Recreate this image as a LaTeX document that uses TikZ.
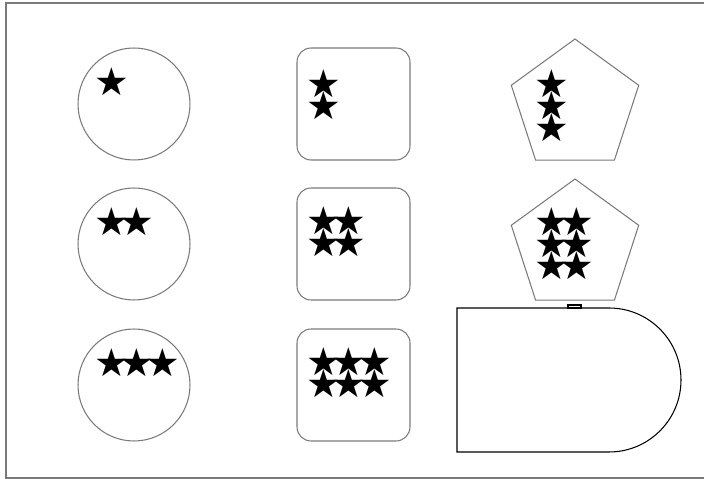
\documentclass[tikz,border=0pt]{standalone}
\usepackage{fontspec}
\usepackage{tikz}
\usetikzlibrary{positioning,shapes.geometric}
\newfontfamily\starfont{DejaVu Sans}
\newcommand\sgap{\kern-5.2pt}
\newcommand\starsize{\starfont\fontsize{22}{12.5}\selectfont\lineskiplimit=-50pt\relax\lineskip=0pt\relax}
\definecolor{rim}{HTML}{7A7A7A}
\definecolor{ink}{HTML}{000000}
\tikzset{circ/.style={draw=rim,circle,minimum size=2.24cm,inner sep=0pt,line width=0.6pt},card/.style={draw=rim,rectangle,rounded corners=0.28cm,minimum width=2.26cm,minimum height=2.24cm,inner sep=0pt,line width=0.6pt},pent/.style={draw=rim,regular polygon,regular polygon sides=5,minimum size=2.68cm,inner sep=0pt,line width=0.6pt},stars/.style={anchor=north west,inner sep=0pt,align=left,font=\starsize}}

\begin{document}
\begin{tikzpicture}[x=0.02cm,y=-0.02cm]
\useasboundingbox (0,0) rectangle (704,479);
\draw[rim,line width=0.6pt] (704,3)--(6,3)--(6,478)--(704,478);
% first column
\node[circ] (ball1) at (134,104) {};
\node[circ] (ball2) at (134,244) {};
\node[circ] (ball3) at (134,385) {};
\node[stars] (bs1) at (94,67) {★};
\node[stars] (bs2) at (94,207) {★\sgap★};
\node[stars] (bs3) at (94,348) {★\sgap★\sgap★};
% second column
\node[card] (card1) at (353.5,104) {};
\node[card] (card2) at (353.5,244) {};
\node[card] (card3) at (353.5,385) {};
\node[stars] (cs1) at (306,69) {★\\★};
\node[stars] (cs2) at (306,206) {★\sgap★\\★\sgap★};
\node[stars] (cs3) at (306,347) {★\sgap★\sgap★\\★\sgap★\sgap★};
% third column
\node[pent] (pent1) at (575,106) {};
\node[pent] (pent2) at (575,246) {};
\node[stars] (ps1) at (534,69) {★\\★\\★};
\node[stars] (ps2) at (534,207) {★\sgap★\\★\sgap★\\★\sgap★};
% last shape
\draw[ink,line width=0.6pt] (457,308)--(609,308) arc[start angle=-90,end angle=90,radius=72]--(457,452)--cycle;
\draw[ink,line width=0.6pt] (568,305) rectangle (581,308);
\end{tikzpicture}
\end{document}
